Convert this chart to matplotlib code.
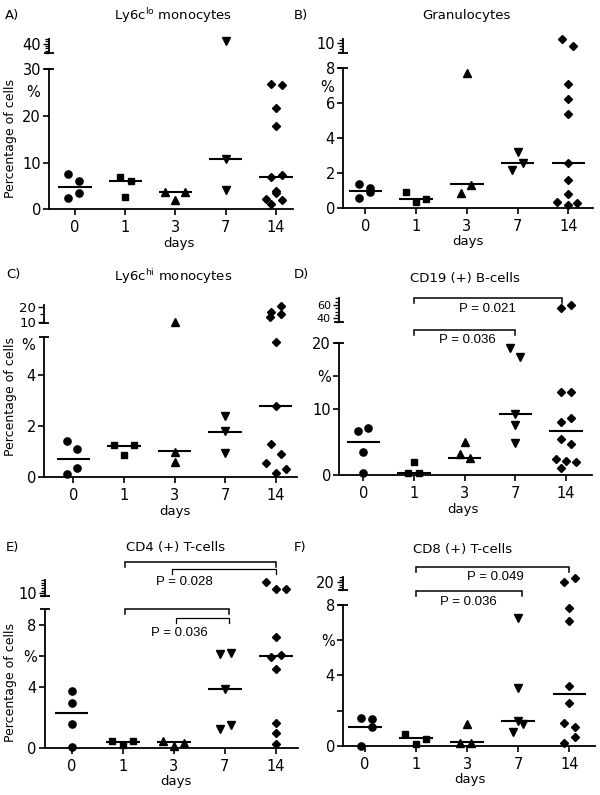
import numpy as np
import matplotlib
matplotlib.use('Agg')
import matplotlib.pyplot as plt
import matplotlib.transforms as mtrans
from matplotlib.ticker import MultipleLocator

plt.rcParams['font.family'] = ['DejaVu Sans']

W, H = 600, 795

days = ['0', '1', '3', '7', '14']
markers = ['o', 's', '^', 'v', 'D']
msizes = [5.2, 4.8, 5.4, 5.4, 3.6]

# ---------------- data ----------------
A_vals = [[7.6, 6.1, 3.4, 2.5], [6.9, 6.1, 2.6], [3.6, 3.6, 2.0], [41.0, 10.8, 4.1],
          [26.7, 26.6, 21.6, 17.9, 6.8, 7.3, 4.0, 3.4, 2.2, 1.2, 1.9]]
A_med = [4.8, 6.0, 3.6, 10.8, 6.8]

B_vals = [[1.36, 1.18, 0.95, 0.59], [0.93, 0.36, 0.51], [7.7, 0.85, 1.33], [3.18, 2.18, 2.56],
          [10.6, 9.6, 7.1, 6.24, 5.38, 2.6, 1.61, 0.8, 0.38, 0.19, 0.3]]
B_med = [1.0, 0.51, 1.36, 2.56, 2.6]

C_vals = [[1.42, 1.07, 0.33, 0.12], [1.24, 1.24, 0.85], [9.6, 0.98, 0.59], [2.38, 1.8, 0.95],
          [20.6, 16.5, 15.3, 13.2, 5.3, 2.78, 1.28, 0.89, 0.52, 0.31, 0.13]]
C_med = [0.69, 1.2, 1.02, 1.77, 2.78]

D_vals = [[7.15, 6.7, 3.5, 0.25], [1.9, 0.25, 0.35], [5.0, 3.1, 2.5], [19.2, 17.9, 9.2, 7.5, 4.8],
          [55.6, 60.0, 12.6, 12.6, 8.6, 8.0, 5.5, 4.7, 2.4, 2.1, 1.9, 1.0]]
D_med = [5.0, 0.3, 2.6, 9.15, 6.7]

E_vals = [[3.69, 2.94, 1.57, 0.1], [0.49, 0.19, 0.45], [0.47, 0.17, 0.36], [6.1, 6.2, 3.86, 1.24, 1.5],
          [10.85, 10.33, 10.33, 7.2, 5.94, 6.05, 5.13, 1.67, 0.97, 0.3]]
E_med = [2.3, 0.43, 0.43, 3.86, 6.0]

F_vals = [[1.59, 1.5, 1.08, 0.0], [0.68, 0.09, 0.4], [1.21, 0.17, 0.17], [7.24, 3.26, 1.42, 1.21, 0.76],
          [20.0, 21.6, 7.81, 7.11, 3.39, 2.45, 1.31, 1.08, 0.49, 0.17]]
F_med = [1.04, 0.42, 0.23, 1.40, 2.92]

D_pvals = ['P = 0.021', 'P = 0.036']
E_pvals = ['P = 0.028', 'P = 0.036']
F_pvals = ['P = 0.049', 'P = 0.036']

titles = {
    'A': r'Ly6c$^{\mathregular{lo}}$ monocytes',
    'B': 'Granulocytes',
    'C': r'Ly6c$^{\mathregular{hi}}$ monocytes',
    'D': 'CD19 (+) B-cells',
    'E': 'CD4 (+) T-cells',
    'F': 'CD8 (+) T-cells',
}

# ---------------- horizontal jitter (layout) ----------------
A_jit = [[-0.13, 0.08, 0.08, -0.13], [-0.11, 0.11, 0], [-0.2, 0.18, 0], [0, 0, 0],
         [-0.09, 0.11, 0, 0, -0.09, 0.11, 0, 0, -0.2, -0.09, 0.11]]
B_jit = [[-0.12, 0.09, 0.09, -0.12], [-0.2, 0, 0.2], [0, -0.12, 0.08], [0, -0.1, 0.11],
         [-0.12, 0.09, 0, 0, 0, 0, 0, 0, -0.23, 0, 0.18]]
C_jit = [[-0.13, 0.08, 0.08, -0.13], [-0.2, 0.2, 0], [0, 0, 0], [0, 0, 0],
         [0.1, -0.09, 0.1, -0.11, 0, 0, -0.09, 0.1, -0.2, 0.2, 0]]
D_jit = [[0.09, -0.11, 0, 0], [0, -0.11, 0.1], [0, -0.1, 0.1], [-0.1, 0.1, 0, 0, 0],
         [-0.1, 0.1, -0.1, 0.1, 0.1, -0.1, -0.1, 0.1, -0.2, 0, 0.2, -0.1]]
E_jit = [[0, 0, 0, 0], [-0.21, 0, 0.2], [-0.21, 0, 0.2], [-0.1, 0.11, 0, -0.1, 0.11],
         [-0.2, 0, 0.19, 0, -0.1, 0.1, 0, 0, 0, 0]]
F_jit = [[-0.08, 0.13, 0.13, -0.08], [-0.21, 0, 0.2], [0, -0.14, 0.07], [0, 0, 0, 0.1, -0.1],
         [-0.1, 0.1, 0, 0, 0, 0, -0.1, 0.1, 0.1, -0.1]]

# layout in pixels: main=(left, right, top, bottom), upper=(top, bottom)
layout = {
    'A': dict(main=(49.3, 293, 69, 209.3), xlim=(-0.511, 4.338), ylim=(0, 30),
              yt=[0, 10, 20, 30], ytl=['0', '10', '20', '30'], pct=25.0,
              upper=(39, 53), uylim=(36, 42), ut=[40], uminor=1.0, ufs=10.5),
    'B': dict(main=(343.3, 592.7, 67.7, 208.3), xlim=(-0.433, 4.48), ylim=(0, 8),
              yt=[0, 2, 4, 6, 8], ytl=['0', '2', '4', '6', '8'], pct=6.9,
              upper=(39, 53), uylim=(8.6, 10.6), ut=[10], uminor=0.4, ufs=10.5),
    'C': dict(main=(44.3, 297, 336.7, 476.7), xlim=(-0.573, 4.42), ylim=(0, 5.5),
              yt=[0, 2, 4], ytl=['0', '2', '4'], pct=5.15,
              upper=(305, 323), uylim=(9, 21.5), ut=[10, 20], uminor=5, ufs=9.5),
    'D': dict(main=(339.3, 592, 342.7, 475), xlim=(-0.473, 4.51), ylim=(0, 20),
              yt=[0, 10, 15, 20], ytl=['0', '10', '%', '20'], pct=None,
              upper=(298, 322), uylim=(34.8, 70.4), ut=[40, 60], uminor=5, ufs=8.0),
    'E': dict(main=(45, 298, 609.3, 748.3), xlim=(-0.52, 4.43), ylim=(0, 9),
              yt=[0, 4, 6, 8], ytl=['0', '4', '%', '8'], pct=None,
              upper=(580, 596), uylim=(9.8, 11.0), ut=[10], uminor=0.2, ufs=10.5),
    'F': dict(main=(343.3, 595, 605, 745.7), xlim=(-0.425, 4.5), ylim=(0, 8),
              yt=[0, 2, 4, 6, 8], ytl=['0', '', '4', '%', '8'], pct=None,
              upper=(577.3, 590), uylim=(17, 22), ut=[20], uminor=1, ufs=10.5),
}

panels = {
    'A': (A_vals, A_jit, A_med),
    'B': (B_vals, B_jit, B_med),
    'C': (C_vals, C_jit, C_med),
    'D': (D_vals, D_jit, D_med),
    'E': (E_vals, E_jit, E_med),
    'F': (F_vals, F_jit, F_med),
}

FS = 9.5
TFS = 10.5
fig = plt.figure(figsize=(W / 100, H / 100), dpi=100)


def rect(l, r, t, b):
    return [l / W, 1 - b / H, (r - l) / W, (b - t) / H]


def fx(p):
    return p / W


def fy(p):
    return 1 - p / H


axes = {}
for key, (vals, jit, meds) in panels.items():
    lay = layout[key]
    l, r, t, b = lay['main']
    ax = fig.add_axes(rect(l, r, t, b))
    ax.set_facecolor('none')
    ut_, ub_ = lay['upper']
    ua = fig.add_axes(rect(l, r, ut_, ub_))
    ua.set_facecolor('none')
    for a in (ax, ua):
        a.set_xlim(*lay['xlim'])
        for s in ('top', 'right'):
            a.spines[s].set_visible(False)
        a.spines['left'].set_linewidth(1.3)
    ax.spines['bottom'].set_linewidth(1.3)
    ua.spines['bottom'].set_visible(False)
    ax.set_ylim(*lay['ylim'])
    ua.set_ylim(*lay['uylim'])

    ax.set_xticks(range(len(days)))
    ax.set_xticklabels(days)
    ax.tick_params(axis='x', length=4, width=1.2, labelsize=TFS, pad=4)
    ax.set_yticks(lay['yt'])
    ax.set_yticklabels(lay['ytl'])
    ax.tick_params(axis='y', length=4.5, width=1.2, labelsize=TFS, pad=1.5)
    ua.set_xticks([])
    ua.set_yticks(lay['ut'])
    ua.set_yticklabels([str(v) for v in lay['ut']])
    ua.yaxis.set_minor_locator(MultipleLocator(lay['uminor']))
    ua.tick_params(axis='y', which='major', length=4.5, width=1.0, labelsize=lay['ufs'], pad=1.5)
    ua.tick_params(axis='y', which='minor', length=3, width=0.9)

    # break caps
    tr = mtrans.blended_transform_factory(ax.transAxes, ax.transData)
    ax.plot([0], [lay['ylim'][1]], marker='_', ms=7, mew=1.3, color='k',
            transform=tr, clip_on=False)
    tru = mtrans.blended_transform_factory(ua.transAxes, ua.transData)
    ua.plot([0], [lay['uylim'][0]], marker='_', ms=7, mew=1.3, color='k',
            transform=tru, clip_on=False)

    if lay['pct'] is not None:
        ptr = tr + mtrans.ScaledTranslation(-6.5 / 72, 0, fig.dpi_scale_trans)
        ax.text(0, lay['pct'], '%', transform=ptr, ha='right', va='center', fontsize=TFS)

    for i, (vs, js) in enumerate(zip(vals, jit)):
        for v, j in zip(vs, js):
            target = ua if v > lay['ylim'][1] else ax
            target.plot([i + j], [v], marker=markers[i], ms=msizes[i], color='k',
                        ls='none', clip_on=False)
        ax.hlines(meds[i], i - 0.33, i + 0.33, color='k', lw=1.5)
    axes[key] = ax

# panel letters, titles, axis labels
letters = {'A': (5, 16), 'B': (294, 16), 'C': (6, 275), 'D': (294, 275), 'E': (6, 547), 'F': (294, 547)}
for k, (x, y) in letters.items():
    fig.text(fx(x), fy(y), k + ')', ha='left', va='center', fontsize=FS)

title_pos = {'A': (173, 16), 'B': (466, 16), 'C': (173, 277), 'D': (465, 279), 'E': (176, 548), 'F': (463, 549)}
for k, (x, y) in title_pos.items():
    fig.text(fx(x), fy(y), titles[k], ha='center', va='center', fontsize=FS)

days_pos = {'A': (179, 243), 'B': (468, 242), 'C': (175, 511), 'D': (463, 509), 'E': (176, 781), 'F': (470, 779)}
for k, (x, y) in days_pos.items():
    fig.text(fx(x), fy(y), 'days', ha='center', va='center', fontsize=FS)

for y in (138, 397, 683):
    fig.text(fx(11), fy(y), 'Percentage of cells', rotation=90, ha='center', va='center', fontsize=9)


# significance brackets
def bracket(ax, x1, x2, ypx, drop=5, lw=1.1):
    tr = mtrans.blended_transform_factory(ax.transData, fig.transFigure)
    ax.plot([x1, x1, x2, x2], [fy(ypx + drop), fy(ypx), fy(ypx), fy(ypx + drop)],
            color='k', lw=lw, transform=tr, clip_on=False, solid_joinstyle='miter')


def ptext(ax, x, ypx, s):
    tr = mtrans.blended_transform_factory(ax.transData, fig.transFigure)
    ax.text(x, fy(ypx), s, transform=tr, ha='center', va='center', fontsize=9.5,
            family=['Liberation Sans', 'DejaVu Sans'])


axD = axes['D']
bracket(axD, 1, 3.92, 298.3)
ptext(axD, 2.45, 309, D_pvals[0])
bracket(axD, 1, 3.0, 330)
ptext(axD, 2.05, 340, D_pvals[1])

axE = axes['E']
bracket(axE, 1.05, 4, 561.7)
bracket(axE, 1.97, 4, 569.3, lw=0.9)
ptext(axE, 2.2, 582.3, E_pvals[0])
bracket(axE, 1.05, 3.08, 609.3)
bracket(axE, 2.05, 3.08, 617.7, lw=0.9)
ptext(axE, 2.1, 632.7, E_pvals[1])

axF = axes['F']
bracket(axF, 1, 4, 566.7)
ptext(axF, 2.55, 576.7, F_pvals[0])
bracket(axF, 1, 3.08, 591)
ptext(axF, 2.03, 601.7, F_pvals[1])

fig.savefig('out.png', dpi=100)
